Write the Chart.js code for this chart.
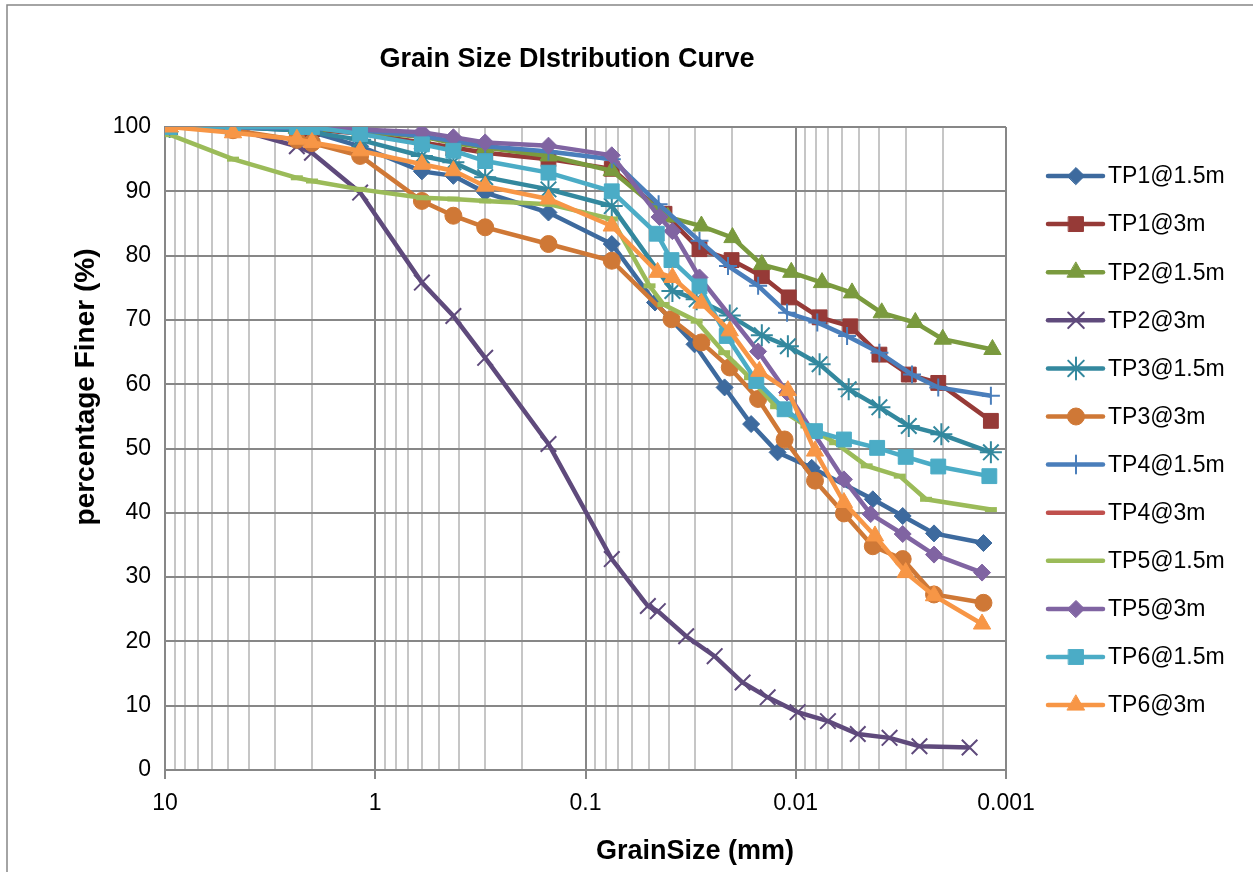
<!DOCTYPE html>
<html>
<head>
<meta charset="utf-8">
<title>Grain Size Distribution Curve</title>
<script src="https://cdn.jsdelivr.net/npm/chart.js@4.4.0/dist/chart.umd.min.js"></script>
<style>
  html, body { margin: 0; padding: 0; background: #fff; overflow: hidden; }
  #wrap { width: 1253px; height: 872px; }
</style>
</head>
<body>
<div id="wrap"><canvas id="gsdChart" width="1253" height="872"></canvas></div>

<script>
  // ---- data (grain size in mm, percent finer) ----
  const chartTitle = 'Grain Size DIstribution Curve'
  const xTitle = 'GrainSize (mm)'
  const yTitle = 'percentage Finer (%)'

  const sieve = [9.5, 4.75, 2.36, 2.0, 1.18, 0.6, 0.425, 0.3, 0.15, 0.075]

  const seriesNames = ['TP1@1.5m', 'TP1@3m', 'TP2@1.5m', 'TP2@3m', 'TP3@1.5m', 'TP3@3m',
    'TP4@1.5m', 'TP4@3m', 'TP5@1.5m', 'TP5@3m', 'TP6@1.5m', 'TP6@3m']

  const tp1_15Size = sieve.concat([0.0467, 0.0303, 0.0218, 0.0163, 0.0122, 0.0084, 0.0043, 0.0031, 0.0022, 0.00128])
  const tp1_15Pct = [100, 100, 99.5, 99.2, 97, 93.1, 92.4, 89.8, 86.7, 81.8, 72.7, 66.2, 59.5, 53.8, 49.4, 47, 42.1, 39.5, 36.8, 35.3]

  const tp1_3Size = sieve.concat([0.0421, 0.0287, 0.0202, 0.0145, 0.0108, 0.0077, 0.0055, 0.0040, 0.0029, 0.0021, 0.00118])
  const tp1_3Pct = [100, 100, 99.8, 99.6, 99, 97.6, 96.8, 96, 95, 93.5, 86.5, 81, 79.3, 76.8, 73.5, 70.4, 69, 64.6, 61.5, 60.2, 54.3]

  const tp2_15Size = sieve.concat([0.0407, 0.0281, 0.0200, 0.0145, 0.0105, 0.0075, 0.0054, 0.0039, 0.0027, 0.0020, 0.00116])
  const tp2_15Pct = [100, 100, 99.8, 99.7, 99.3, 98.5, 97.5, 96.8, 95.5, 93.2, 86, 84.6, 82.8, 78.6, 77.4, 75.8, 74.2, 71.1, 69.6, 67, 65.4]

  const tp2_3Size = sieve.concat([0.0505, 0.0453, 0.0332, 0.0243, 0.0179, 0.0136, 0.0098, 0.00703, 0.00507, 0.00358, 0.00258, 0.00149])
  const tp2_3Pct = [100, 99.8, 97, 96, 89.8, 75.8, 70.6, 64.1, 50.7, 32.8, 25.5, 24.7, 20.8, 17.7, 13.6, 11.3, 9.0, 7.6, 5.6, 5.0, 3.7, 3.5]

  const tp3_15Size = sieve.concat([0.0386, 0.0296, 0.0206, 0.0145, 0.0109, 0.0077, 0.0056, 0.0040, 0.0029, 0.00203, 0.00118])
  const tp3_15Pct = [100, 100, 99.5, 99.2, 98, 95.5, 94.5, 92.2, 90.3, 87.7, 74.5, 73.2, 70.7, 67.6, 65.9, 63.1, 59.2, 56.4, 53.5, 52.2, 49.4]

  const tp3_3Size = sieve.concat([0.0390, 0.0281, 0.0206, 0.0151, 0.0113, 0.0081, 0.0059, 0.0043, 0.0031, 0.0022, 0.00128])
  const tp3_3Pct = [100, 99.5, 98, 97.5, 95.5, 88.5, 86.2, 84.4, 81.8, 79.2, 70.1, 66.5, 62.6, 57.7, 51.4, 45, 39.9, 34.8, 32.8, 27.3, 26]

  const tp4_15Size = sieve.concat([0.0449, 0.0287, 0.0210, 0.0151, 0.0110, 0.0079, 0.0057, 0.0040, 0.0028, 0.0021, 0.00118])
  const tp4_15Pct = [100, 100, 99.9, 99.8, 99.5, 98.6, 97.8, 97, 96.2, 95, 88, 82.3, 78.4, 75.3, 71.1, 69.6, 67.5, 64.9, 61.5, 59.5, 58.2]

  const tp4_3Size = []
  const tp4_3Pct = []

  const tp5_15Size = sieve.concat([0.0496, 0.0426, 0.0296, 0.0219, 0.0165, 0.0124, 0.0089, 0.0065, 0.0046, 0.0032, 0.0024, 0.00118])
  const tp5_15Pct = [98.8, 95, 92.1, 91.6, 90.3, 89, 88.8, 88.5, 88, 85.7, 75.3, 72.4, 69.8, 64.9, 61, 56.5, 53.5, 50.9, 47.3, 45.7, 42.1, 40.5]

  const tp5_3Size = sieve.concat([0.0445, 0.0386, 0.0287, 0.0151, 0.0110, 0.0059, 0.0044, 0.0031, 0.0022, 0.0013])
  const tp5_3Pct = [100, 100, 100, 99.9, 99.6, 99.2, 98.4, 97.6, 97.1, 95.6, 86, 83.8, 76.6, 65.1, 58.7, 45.2, 39.8, 36.7, 33.5, 30.7]

  const tp6_15Size = sieve.concat([0.0458, 0.0390, 0.0287, 0.0213, 0.0154, 0.0113, 0.0081, 0.0059, 0.0041, 0.0030, 0.0021, 0.00120])
  const tp6_15Pct = [100, 100, 100, 100, 98.9, 97.3, 96.3, 94.7, 92.9, 90, 83.4, 79.3, 75.2, 67.5, 60.5, 56.1, 52.7, 51.4, 50.1, 48.7, 47.2, 45.7]

  const tp6_3Size = sieve.concat([0.0454, 0.0386, 0.0281, 0.0206, 0.0149, 0.0109, 0.0081, 0.0059, 0.0042, 0.0030, 0.0022, 0.0013])
  const tp6_3Pct = [100, 99.1, 98.1, 97.6, 96.3, 94.2, 93.2, 90.8, 88.8, 84.6, 77.4, 76.6, 72.6, 68.3, 62, 59, 49.6, 41.6, 36.4, 30.7, 27.1, 22.7]

  const sizes = [tp1_15Size, tp1_3Size, tp2_15Size, tp2_3Size, tp3_15Size, tp3_3Size,
    tp4_15Size, tp4_3Size, tp5_15Size, tp5_3Size, tp6_15Size, tp6_3Size]
  const pcts = [tp1_15Pct, tp1_3Pct, tp2_15Pct, tp2_3Pct, tp3_15Pct, tp3_3Pct,
    tp4_15Pct, tp4_3Pct, tp5_15Pct, tp5_3Pct, tp6_15Pct, tp6_3Pct]

  // ---- style ----
  const colors = ['#3d6a9e', '#963a37', '#7a9a3e', '#5f4a7c', '#33889e', '#cf7836',
    '#4a7ebb', '#c0504d', '#9bbb59', '#8064a2', '#4bacc6', '#f79646']
  const markers = [
    {style: 'rectRot', r: 8.5, bw: 1},
    {style: 'rect', r: 10.5, bw: 1},
    {style: 'triangle', r: 10, bw: 1},
    {style: 'crossRot', r: 11, bw: 2},
    {style: 'star', r: 11, bw: 2},
    {style: 'circle', r: 8.5, bw: 1},
    {style: 'cross', r: 9, bw: 2},
    {style: false, r: 0, bw: 0},
    {style: 'line', r: 6, bw: 5},
    {style: 'rectRot', r: 8.5, bw: 1},
    {style: 'rect', r: 10.5, bw: 1},
    {style: 'triangle', r: 10, bw: 1}
  ]

  const fontFam = '"Liberation Sans", Arial, sans-serif'
  const gridDark = '#878787'
  const gridLight = '#c6c6c6'

  function isMajor(v) {
    if (!v) return false
    let l = Math.log10(v)
    return Math.abs(l - Math.round(l)) < 1e-9
  }

  let datasets = seriesNames.map(function (name, i) {
    return {
      label: name,
      data: sizes[i].map(function (s, j) { return {x: s, y: pcts[i][j]} }),
      borderColor: colors[i],
      backgroundColor: colors[i],
      pointBackgroundColor: colors[i],
      pointBorderColor: colors[i],
      pointStyle: markers[i].style || 'circle',
      pointRadius: markers[i].r,
      pointBorderWidth: markers[i].bw,
      borderWidth: 4.5,
      tension: 0,
      fill: false,
      order: -i
    }
  })

  // titles, legend and outer frame
  const extras = {
    id: 'extras',
    afterDraw(chart) {
      let ctx = chart.ctx
      ctx.save()
      ctx.strokeStyle = '#868686'
      ctx.lineWidth = 1.5
      ctx.strokeRect(7, 5, 1400, 1000)

      ctx.fillStyle = '#000'
      ctx.textAlign = 'center'
      ctx.textBaseline = 'middle'
      ctx.font = 'bold 27px ' + fontFam
      ctx.fillText(chartTitle, 567, 60)
      ctx.fillText(xTitle, 695, 852)
      ctx.save()
      ctx.translate(86, 387)
      ctx.rotate(-Math.PI / 2)
      ctx.font = 'bold 28px ' + fontFam
      ctx.fillText(yTitle, 0, 0)
      ctx.restore()

      // legend
      ctx.font = '23px ' + fontFam
      ctx.textAlign = 'left'
      for (let i = 0; i < seriesNames.length; i++) {
        let y = 176 + i * 48.1
        ctx.strokeStyle = colors[i]
        ctx.fillStyle = colors[i]
        ctx.lineWidth = 4.5
        ctx.lineCap = 'round'
        ctx.beginPath()
        ctx.moveTo(1048, y)
        ctx.lineTo(1103, y)
        ctx.stroke()
        if (markers[i].style && markers[i].style !== 'line') {
          ctx.lineWidth = markers[i].bw
          Chart.helpers.drawPoint(ctx, {
            pointStyle: markers[i].style,
            radius: markers[i].r,
            rotation: 0,
            borderWidth: markers[i].bw
          }, 1076, y)
        }
        ctx.fillStyle = '#000'
        ctx.fillText(seriesNames[i], 1108, y + 1)
      }
      ctx.restore()
    }
  }

  new Chart(document.getElementById('gsdChart'), {
    type: 'line',
    data: {datasets: datasets},
    plugins: [extras],
    options: {
      responsive: false,
      animation: false,
      layout: {padding: {top: 127, right: 247, bottom: 0, left: 0}},
      plugins: {legend: {display: false}, tooltip: {enabled: false}, title: {display: false}},
      scales: {
        x: {
          type: 'logarithmic',
          reverse: true,
          min: 0.001,
          max: 10,
          afterBuildTicks: function (scale) {
            let t = []
            for (let e = -3; e <= 1; e++) {
              for (let k = 1; k <= 9; k++) {
                let v = k * Math.pow(10, e)
                if (v > 10.0001) break
                t.push({value: v})
              }
            }
            scale.ticks = t
          },
          afterFit: function (scale) { scale.height = 102 },
          ticks: {
            autoSkip: false,
            maxRotation: 0,
            padding: 11,
            color: '#000',
            font: {family: fontFam, size: 23},
            callback: function (value) { return isMajor(value) ? String(value) : '' }
          },
          grid: {
            color: function (c) { return isMajor(c.tick && c.tick.value) ? gridDark : gridLight },
            tickColor: function (c) { return isMajor(c.tick && c.tick.value) ? gridDark : 'rgba(0,0,0,0)' },
            lineWidth: 2,
            tickLength: 9
          },
          border: {color: gridDark, width: 2}
        },
        y: {
          min: 0,
          max: 100,
          afterFit: function (scale) { scale.width = 165 },
          ticks: {
            stepSize: 10,
            padding: 14,
            color: '#000',
            font: {family: fontFam, size: 23}
          },
          grid: {color: gridDark, lineWidth: 2, drawTicks: false},
          border: {color: gridDark, width: 2}
        }
      }
    }
  })
</script>
</body>
</html>
